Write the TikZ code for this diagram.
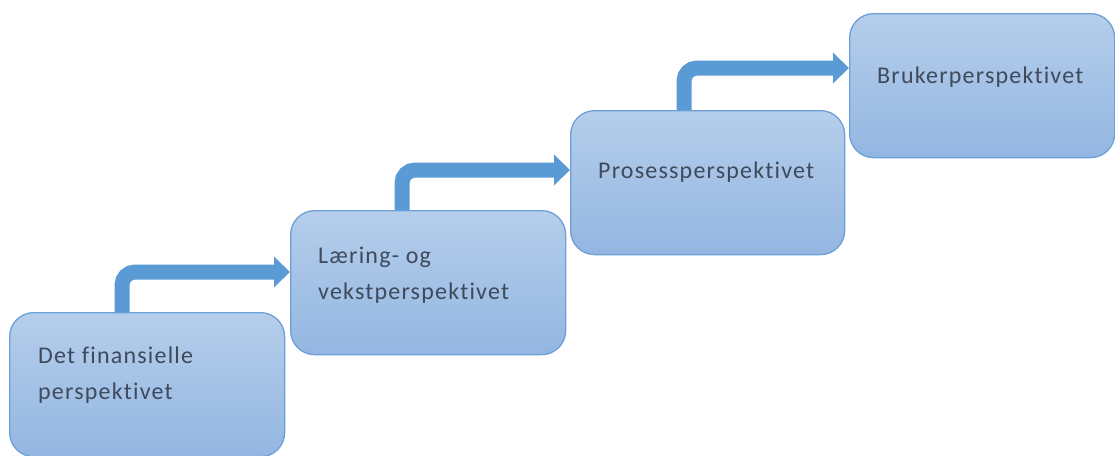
\documentclass[tikz,border=0pt]{standalone}
\usepackage{fontspec}
\setmainfont{Carlito}[LetterSpace=5.0,Ligatures=NoCommon]
\usetikzlibrary{arrows.meta,calc}
\definecolor{boxtop}{HTML}{B5CEEB}
\definecolor{boxbot}{HTML}{93B6E1}
\definecolor{boxline}{HTML}{6DA0D8}
\definecolor{arrowfill}{HTML}{5B9BD5}
\definecolor{txtcol}{HTML}{3F4A5C}
\begin{document}
\begin{tikzpicture}[x=1pt,y=-1pt,
  stage/.style={draw=boxline, line width=1.3pt, rounded corners=24pt,
    top color=boxtop, bottom color=boxbot, minimum width=275pt,
    minimum height=144pt, anchor=north west, inner sep=0pt},
  lbl/.style={text=txtcol, font=\fontsize{24}{36}\selectfont, align=left,
    anchor=base west, inner sep=0pt},
  stepline/.style={draw=arrowfill, line width=15pt, rounded corners=13pt,
    -{Triangle[width=30pt,length=16pt]}}
]
\useasboundingbox (0,0) rectangle (1115,455);
\node[stage] (b1) at (9,312) {};
\node[stage] (b2) at (290,210) {};
\node[stage, minimum width=274pt] (b3) at (570,110) {};
\node[stage, minimum width=265pt] (b4) at (849,13) {};
\node[lbl] (t1) at (38,399) {Det finansielle\\perspektivet};
\node[lbl] (t2) at (318,299) {Læring- og\\vekstperspektivet};
\node[lbl] (t3) at (598,178) {Prosessperspektivet};
\node[lbl] (t4) at (877,83) {Brukerperspektivet};
\coordinate (c1) at (122,272);
\coordinate (c2) at (402,170);
\coordinate (c3) at (684,68);
\draw[stepline] (c1 |- b1.north) -- (c1) -- (c1 -| b2.west);
\draw[stepline] (c2 |- b2.north) -- (c2) -- (c2 -| b3.west);
\draw[stepline] (c3 |- b3.north) -- (c3) -- (c3 -| b4.west);
\end{tikzpicture}
\end{document}
